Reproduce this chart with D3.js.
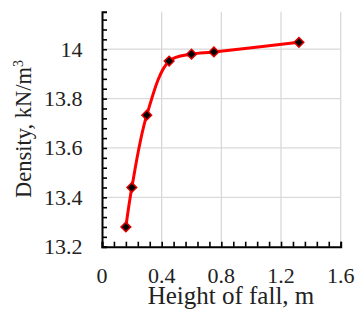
<!DOCTYPE html>
<html><head><meta charset="utf-8">
<script src="https://cdn.jsdelivr.net/npm/d3@7"></script>
<style>body{margin:0;background:#fff}svg{display:block}</style>
</head><body>
<script>
const heights = [0.16, 0.20, 0.30, 0.45, 0.60, 0.75, 1.32];
const densities = [13.28, 13.44, 13.733, 13.952, 13.98, 13.989, 14.028];
const xTicks = [0, 0.4, 0.8, 1.2, 1.6];
const xTickLabels = ["0", "0.4", "0.8", "1.2", "1.6"];
const yTicks = [13.2, 13.4, 13.6, 13.8, 14];
const yTickLabels = ["13.2", "13.4", "13.6", "13.8", "14"];

const W = 359, H = 323;
const svg = d3.select("body").append("svg").attr("width", W).attr("height", H);
const x = d3.scaleLinear().domain([0, 1.6]).range([102, 340.7]);
const y = d3.scaleLinear().domain([13.2, 14.152]).range([246.7, 11.7]);
const font = "'Liberation Serif','Times New Roman',serif";

// grid
svg.append("g").selectAll("line").data(xTicks.slice(1)).join("line")
  .attr("x1", d => x(d)).attr("x2", d => x(d)).attr("y1", y.range()[1]).attr("y2", y.range()[0])
  .attr("stroke", "#d9d9d9").attr("stroke-width", 1.3);
svg.append("g").selectAll("line").data(yTicks.slice(1)).join("line")
  .attr("y1", d => y(d)).attr("y2", d => y(d)).attr("x1", x.range()[0]).attr("x2", x.range()[1])
  .attr("stroke", "#d9d9d9").attr("stroke-width", 1.3);

// axes with inward minor ticks
const xAxis = d3.axisBottom(x).tickValues(d3.range(0, 1.6001, 0.08)).tickSize(-5).tickFormat("");
const gx = svg.append("g").attr("transform", `translate(0,${y.range()[0]})`).call(xAxis);
const yAxis = d3.axisLeft(y).tickValues(d3.range(13.2, 14.1401, 0.04)).tickSize(-5).tickFormat("");
const gy = svg.append("g").attr("transform", `translate(${x.range()[0]},0)`).call(yAxis);
[gx, gy].forEach(g => {
  g.select(".domain").attr("stroke", "#000").attr("stroke-width", 2);
  g.selectAll(".tick line").attr("stroke", "#000").attr("stroke-width", 1.6);
});

// tick labels
svg.append("g").selectAll("text").data(xTicks).join("text")
  .attr("x", d => x(d)).attr("y", 283).attr("text-anchor", "middle")
  .attr("font-family", font).attr("font-size", 22).attr("fill", "#222")
  .text((d, i) => xTickLabels[i]);
svg.append("g").selectAll("text").data(yTicks).join("text")
  .attr("x", 82.5).attr("y", d => y(d) + 7.5).attr("text-anchor", "end")
  .attr("font-family", font).attr("font-size", 22).attr("fill", "#222")
  .text((d, i) => yTickLabels[i]);

// axis titles
svg.append("text").attr("x", 231).attr("y", 304).attr("text-anchor", "middle")
  .attr("font-family", font).attr("font-size", 25).attr("fill", "#222")
  .text("Height of fall, m");
const yl = svg.append("text").attr("transform", "translate(30.5,129) rotate(-90)")
  .attr("text-anchor", "middle").attr("font-family", font).attr("font-size", 22.5).attr("fill", "#222");
yl.append("tspan").text("Density, kN/m");
yl.append("tspan").attr("dy", -8).attr("font-size", 14).text("3");

// line
const pts = heights.map((h, i) => [h, densities[i]]);
const line = d3.line().x(d => x(d[0])).y(d => y(d[1])).curve(d3.curveCatmullRom.alpha(0.5));
svg.append("path").datum(pts).attr("d", line).attr("fill", "none")
  .attr("stroke", "#ff0000").attr("stroke-width", 3);

// markers
const sym = d3.symbol().type(d3.symbolDiamond2).size(60);
svg.append("g").selectAll("path").data(pts).join("path")
  .attr("transform", d => `translate(${x(d[0])},${y(d[1])})`)
  .attr("d", sym).attr("fill", "#000").attr("stroke", "#e00000").attr("stroke-width", 1.5);
</script>
</body></html>
